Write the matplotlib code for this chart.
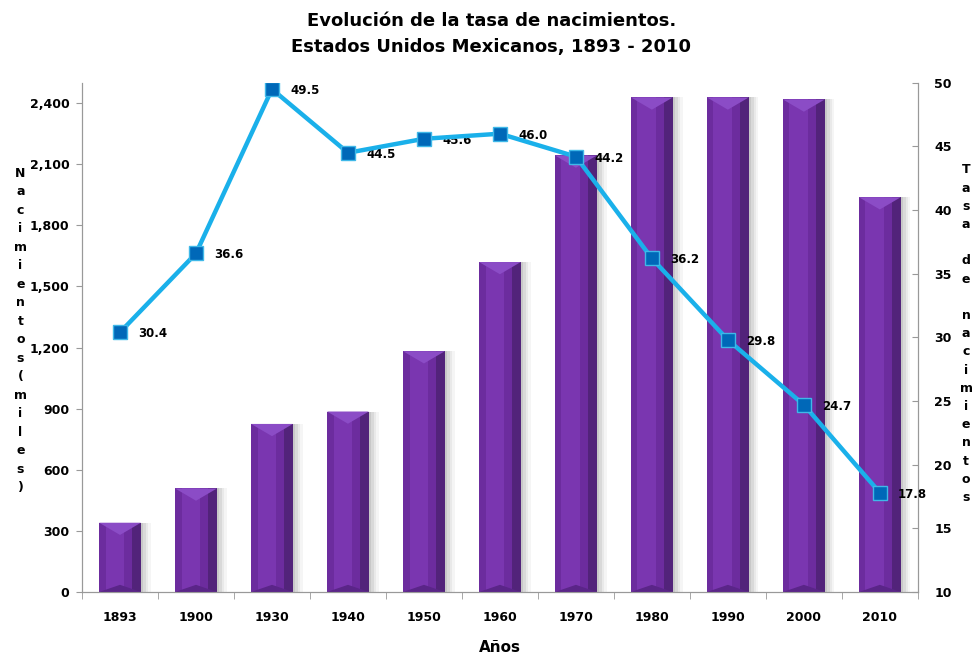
import matplotlib.pyplot as plt
import numpy as np
from matplotlib.ticker import FuncFormatter, MultipleLocator

plt.rcParams['font.family'] = ['DejaVu Sans']

# datos
anios = ['1893', '1900', '1930', '1940', '1950', '1960', '1970', '1980', '1990', '2000', '2010']
nacimientos = [340, 508, 825, 886, 1182, 1620, 2143, 2428, 2428, 2418, 1938]
tasa = [30.4, 36.6, 49.5, 44.5, 45.6, 46.0, 44.2, 36.2, 29.8, 24.7, 17.8]

fig = plt.figure(figsize=(9.73, 6.57), dpi=100)
ax = fig.add_axes([0.0843, 0.099, 0.859, 0.775])
ax2 = ax.twinx()

x = np.arange(len(anios))
w = 0.55

# sombra a la derecha de las barras
for k, a in enumerate([0.32, 0.22, 0.13, 0.06]):
    ax.bar(x + w / 2 + 0.032 * k + 0.016, nacimientos, width=0.032, color='#555555',
           alpha=a, linewidth=0, zorder=1)

# barras principales con efecto de bisel
ax.bar(x, nacimientos, width=w, color='#6C2C9E', linewidth=0, zorder=2)
ax.bar(x - w * 0.12, nacimientos, width=w * 0.45, color='#7A36B0', linewidth=0, zorder=2)
ax.bar(x + w * 0.39, nacimientos, width=w * 0.22, color='#52237A', linewidth=0, zorder=2)
for xi, h in zip(x, nacimientos):
    ax.fill([xi - w / 2, xi + w / 2, xi], [h, h, h - 60], color='#8B4CC6', lw=0, zorder=3)
    ax.fill([xi - w / 2, xi + w / 2, xi], [0, 0, 35], color='#5A2588', lw=0, zorder=3)

ax.set_xlim(-0.5, len(anios) - 0.5)
ax.set_ylim(0, 2500)
ax.yaxis.set_major_locator(MultipleLocator(300))
ax.yaxis.set_major_formatter(FuncFormatter(lambda v, p: f'{int(v):,}'))
ax.set_xticks(x)
ax.set_xticklabels(anios)
ax.set_xticks(np.arange(-0.5, len(anios)), minor=True)
ax.tick_params(axis='x', which='major', length=0, pad=14)
ax.tick_params(axis='x', which='minor', length=5, color='#999999', direction='out')
ax.tick_params(axis='y', length=4, color='#999999', direction='out', pad=5)

ax2.plot(x, tasa, color='#1AB0EA', linewidth=3.2, marker='s', markersize=10,
         markerfacecolor='#0068B8', markeredgecolor='#3FB8E8', markeredgewidth=1, zorder=5)
for xi, t in zip(x, tasa):
    ax2.annotate(f'{t:.1f}', (xi, t), xytext=(13, -1), textcoords='offset points',
                 fontsize=8.5, fontweight='bold', va='center', ha='left')
ax2.set_ylim(10, 50)
ax2.yaxis.set_major_locator(MultipleLocator(5))
ax2.tick_params(axis='y', length=4, color='#999999', direction='in', pad=12)

for a in (ax, ax2):
    for s in a.spines.values():
        s.set_color('#999999')
    a.spines['top'].set_visible(False)
    for lbl in a.get_xticklabels() + a.get_yticklabels():
        lbl.set_fontweight('bold')
        lbl.set_fontsize(9)

ax.set_xlabel('Años', fontsize=11, fontweight='bold', labelpad=11)

izq = '\n'.join('Nacimientos (miles)'.replace(' ', ''))
fig.text(0.021, 0.497, izq, ha='center', va='center', fontsize=9, fontweight='bold',
         linespacing=1.55)
der = '\n'.join(list('Tasa') + [''] + list('de') + [''] + list('nacimientos'))
fig.text(0.993, 0.492, der, ha='center', va='center', fontsize=9, fontweight='bold',
         linespacing=1.52)

fig.text(0.505, 0.968, 'Evolución de la tasa de nacimientos.', ha='center', va='center',
         fontsize=13, fontweight='bold')
fig.text(0.505, 0.928, 'Estados Unidos Mexicanos, 1893 - 2010', ha='center', va='center',
         fontsize=13, fontweight='bold')

fig.savefig('out.png', dpi=100)
